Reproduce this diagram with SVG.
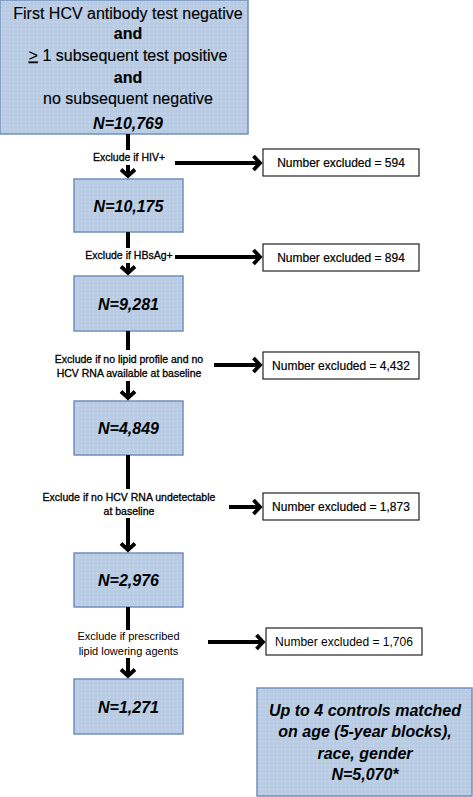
<svg xmlns="http://www.w3.org/2000/svg" width="473" height="797" viewBox="0 0 473 797">
<defs>
<pattern id="dots" width="4" height="4" patternUnits="userSpaceOnUse">
<rect width="4" height="4" fill="#b9cce4"/>
<rect x="1" y="1" width="1" height="1" fill="#d3dff0"/>
</pattern>
<marker id="chev" viewBox="-10 -10 20 20" refX="0" refY="0" markerWidth="20" markerHeight="20" markerUnits="userSpaceOnUse" orient="auto">
<path d="M -6.5 -7 L 0 0 L -6.5 7" fill="none" stroke="#000" stroke-width="3.8"/>
</marker>
</defs>
<style>
.node{fill:url(#dots);stroke:#6f90bd;stroke-width:1.5}
.ex{fill:#fff;stroke:#222;stroke-width:1.2}
.t{font-family:"Liberation Sans",Arial,sans-serif;fill:#000;text-anchor:middle}
.n{font-weight:bold;font-style:italic;font-size:16px}
.lab{font-size:10.5px;stroke:#000;stroke-width:0.3}
.ext{font-size:12px;stroke:#000;stroke-width:0.2}
.hd{font-size:16px;stroke:#000;stroke-width:0.15}
.conn line{stroke:#000;stroke-width:4;fill:none}
</style>
<g id="start">
<rect class="node" x="0" y="0" width="248" height="134"/>
<text class="t hd" x="128" y="18.5">First HCV antibody test negative</text>
<text class="t hd" x="128" y="39" font-weight="bold">and</text>
<text class="t hd" x="128" y="60.5"><tspan text-decoration="underline">&gt;</tspan> 1 subsequent test positive</text>
<text class="t hd" x="128" y="82.5" font-weight="bold">and</text>
<text class="t hd" x="128" y="103.5">no subsequent negative</text>
<text class="t n" x="128" y="129" font-size="19">N=10,769</text>
</g>
<g id="n2"><rect class="node" x="74" y="179" width="109" height="53"/><text class="t n" x="128.5" y="212">N=10,175</text></g>
<g id="n3"><rect class="node" x="74" y="276" width="109" height="55"/><text class="t n" x="128.5" y="309.5">N=9,281</text></g>
<g id="n4"><rect class="node" x="74" y="401" width="109" height="54"/><text class="t n" x="128.5" y="434">N=4,849</text></g>
<g id="n5"><rect class="node" x="74" y="553" width="109" height="54"/><text class="t n" x="128.5" y="586">N=2,976</text></g>
<g id="n6"><rect class="node" x="74" y="679" width="109" height="55"/><text class="t n" x="128.5" y="712.5">N=1,271</text></g>
<g id="controls">
<rect class="node" x="257" y="688" width="215" height="108"/>
<text class="t n" x="365" y="715.5" font-size="15.5">Up to 4 controls matched</text>
<text class="t n" x="365" y="736.5" font-size="15.5">on age (5-year blocks),</text>
<text class="t n" x="365" y="758.5" font-size="15.5">race, gender</text>
<text class="t n" x="365" y="779.5" font-size="15.5">N=5,070*</text>
</g>
<g id="ex1"><rect class="ex" x="263" y="149" width="156" height="27"/><text class="t ext" x="341" y="167">Number excluded = 594</text></g>
<g id="ex2"><rect class="ex" x="263" y="244" width="156" height="27"/><text class="t ext" x="341" y="261.5">Number excluded = 894</text></g>
<g id="ex3"><rect class="ex" x="263" y="352" width="156" height="27"/><text class="t ext" x="341" y="369.5">Number excluded = 4,432</text></g>
<g id="ex4"><rect class="ex" x="263" y="493" width="156" height="27"/><text class="t ext" x="341" y="511">Number excluded = 1,873</text></g>
<g id="ex5"><rect class="ex" x="266" y="628" width="156" height="27"/><text class="t" x="344" y="646" font-size="12">Number excluded = 1,706</text></g>
<g id="labels">
<text class="t lab" x="129" y="161">Exclude if HIV+</text>
<text class="t lab" x="129" y="259">Exclude if HBsAg+</text>
<text class="t lab" x="129" y="363">Exclude if no lipid profile and no</text>
<text class="t lab" x="129" y="377">HCV RNA available at baseline</text>
<text class="t lab" x="129" y="501">Exclude if no HCV RNA undetectable</text>
<text class="t lab" x="129" y="515">at baseline</text>
<text class="t" x="128.5" y="640" font-size="11">Exclude if prescribed</text>
<text class="t" x="128.5" y="655" font-size="11">lipid lowering agents</text>
</g>
<g id="connectors" class="conn">
<line x1="128" y1="134" x2="128" y2="150"/>
<line x1="128" y1="165" x2="128" y2="176" marker-end="url(#chev)"/>
<line x1="128" y1="232" x2="128" y2="248"/>
<line x1="128" y1="263" x2="128" y2="273" marker-end="url(#chev)"/>
<line x1="128" y1="331" x2="128" y2="350"/>
<line x1="128" y1="381" x2="128" y2="398" marker-end="url(#chev)"/>
<line x1="128" y1="455" x2="128" y2="489"/>
<line x1="128" y1="518" x2="128" y2="550" marker-end="url(#chev)"/>
<line x1="128" y1="607" x2="128" y2="630"/>
<line x1="128" y1="658" x2="128" y2="676" marker-end="url(#chev)"/>
<line x1="175" y1="163" x2="260" y2="163" marker-end="url(#chev)"/>
<line x1="175" y1="257" x2="260" y2="257" marker-end="url(#chev)"/>
<line x1="214" y1="365" x2="260" y2="365" marker-end="url(#chev)"/>
<line x1="229" y1="507" x2="260" y2="507" marker-end="url(#chev)"/>
<line x1="208" y1="642" x2="263" y2="642" marker-end="url(#chev)"/>
</g>
</svg>
